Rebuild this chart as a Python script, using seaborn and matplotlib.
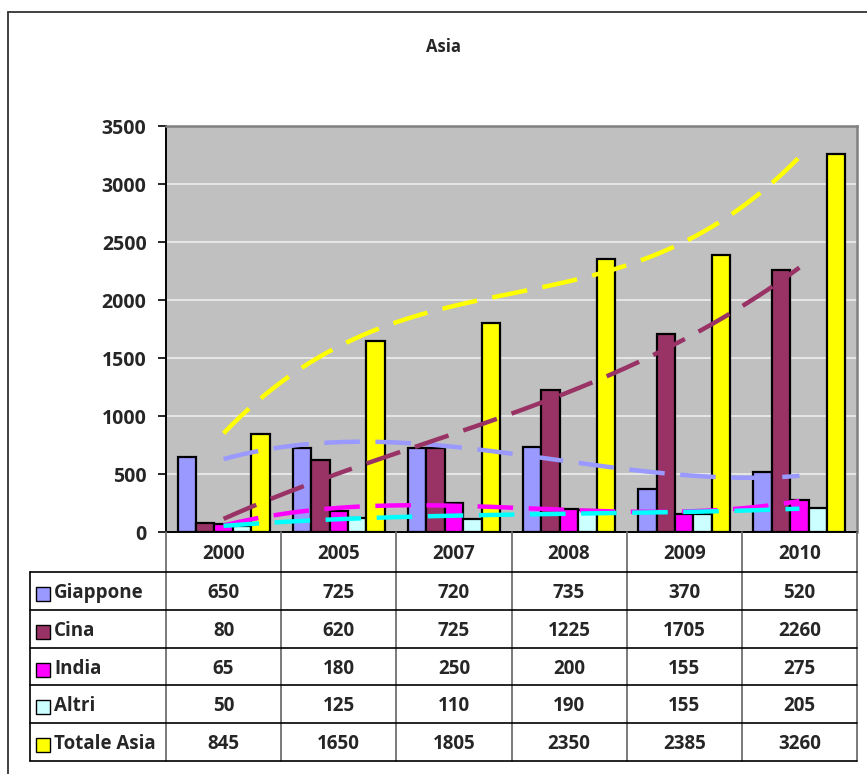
import numpy as np
import pandas as pd
import matplotlib
matplotlib.use("Agg")
import matplotlib.pyplot as plt
from matplotlib.patches import Rectangle
import seaborn as sns

# --- data -----------------------------------------------------------------
anni = ["2000", "2005", "2007", "2008", "2009", "2010"]
serie = ["Giappone", "Cina", "India", "Altri", "Totale Asia"]
giappone = [650, 725, 720, 735, 370, 520]
cina = [80, 620, 725, 1225, 1705, 2260]
india = [65, 180, 250, 200, 155, 275]
altri = [50, 125, 110, 190, 155, 205]
totale_asia = [845, 1650, 1805, 2350, 2385, 3260]
y_ticks = [0, 500, 1000, 1500, 2000, 2500, 3000, 3500]

valori = [giappone, cina, india, altri, totale_asia]
colori_barre = ["#9999FF", "#993366", "#FF00FF", "#CCFFFF", "#FFFF00"]
colori_trend = ["#9999FF", "#993366", "#FF00FF", "#00FFFF", "#FFFF00"]

df = pd.DataFrame({
    "anno": np.tile(anni, len(serie)),
    "serie": np.repeat(serie, len(anni)),
    "valore": np.concatenate(valori),
})

sns.set_theme(style="white")
plt.rcParams["font.family"] = ["Open Sans", "DejaVu Sans"]
plt.rcParams["font.weight"] = "bold"

W, H = 867, 774
fig = plt.figure(figsize=(W / 100, H / 100), dpi=100)

# plot area in pixel coordinates
L, R, T, B = 166, 857, 126, 532
ax = fig.add_axes([L / W, 1 - B / H, (R - L) / W, (B - T) / H])
ax.set_facecolor("#C0C0C0")

sns.barplot(data=df, x="anno", y="valore", hue="serie", order=anni,
            hue_order=serie, palette=colori_barre, saturation=1,
            edgecolor="black", linewidth=1.6, width=0.8, ax=ax,
            legend=False, zorder=2)

# cubic trend lines across the category centres
xs = np.linspace(0, len(anni) - 1, 200)
for vals, col in zip(valori, colori_trend):
    coef = np.polyfit(np.arange(len(anni)), vals, 3)
    ax.plot(xs, np.polyval(coef, xs), color=col, lw=3.2,
            dashes=(8, 3.5), solid_capstyle="butt", zorder=3)

ax.set_xlim(-0.5, len(anni) - 0.5)
ax.set_ylim(0, 3500)
ax.set_yticks(y_ticks)
ax.set_yticklabels([str(v) for v in y_ticks], fontsize=14, fontweight="bold")
ax.set_xticks([])
ax.set_xlabel("")
ax.set_ylabel("")
ax.yaxis.grid(True, color="#EDEDED", lw=1.2)
ax.set_axisbelow(True)
ax.tick_params(axis="y", left=True, length=6, width=1.2, color="black", pad=8)
for s in ["left", "bottom"]:
    ax.spines[s].set_color("black")
    ax.spines[s].set_linewidth(1.4)
for s in ["top", "right"]:
    ax.spines[s].set_color("#808080")
    ax.spines[s].set_linewidth(1.8)

fig.text(443 / W, 1 - 47 / H, "Asia", ha="center", va="center",
         fontsize=12, fontweight="bold")

# outer chart frame (left and top edges)
fig.add_artist(plt.Line2D([8 / W, 8 / W], [0, 1 - 12 / H],
                          transform=fig.transFigure, color="#333333", lw=1.3))
fig.add_artist(plt.Line2D([8 / W, 1], [1 - 12 / H, 1 - 12 / H],
                          transform=fig.transFigure, color="#333333", lw=1.3))

# --- data table under the axis --------------------------------------------
TL, TB = 30, 761
tab = fig.add_axes([TL / W, 1 - TB / H, (R - TL) / W, (TB - B) / H])
tab.axis("off")
ppc = (R - L) / len(anni)          # pixels per category


def px2x(px):
    return -0.5 + (px - L) / ppc


tab.set_xlim(px2x(TL), len(anni) - 0.5)
tab.set_ylim(TB, B)

righe = [B, 572, 610, 648, 685, 723, TB]

# vertical separators between the year columns
for i in range(len(anni) + 1):
    tab.plot([i - 0.5, i - 0.5], [B, TB], color="#707070", lw=1.3,
             clip_on=False)
# horizontal rules
for y in righe[1:]:
    tab.plot([px2x(TL), len(anni) - 0.5], [y, y], color="black", lw=1.2,
             clip_on=False)
tab.plot([px2x(TL), px2x(TL)], [righe[1], TB], color="black", lw=1.2,
         clip_on=False)

# header with the years
for i, a in enumerate(anni):
    tab.text(i, (righe[0] + righe[1]) / 2 + 2, a, ha="center", va="center",
             fontsize=13.5, fontweight="bold")

# one row per series
key = 14
for r, (nome, vals, col) in enumerate(zip(serie, valori, colori_barre)):
    yc = (righe[r + 1] + righe[r + 2]) / 2 + 2
    tab.add_patch(Rectangle((px2x(36), yc - key / 2 + 1), key / ppc, key,
                            facecolor=col, edgecolor="black", lw=1.0,
                            clip_on=False))
    tab.text(px2x(54), yc, nome, ha="left", va="center", fontsize=13.5,
             fontweight="bold")
    for i, v in enumerate(vals):
        tab.text(i, yc, str(v), ha="center", va="center", fontsize=13.5,
                 fontweight="bold")

fig.savefig("out.png", dpi=100, facecolor="white")
